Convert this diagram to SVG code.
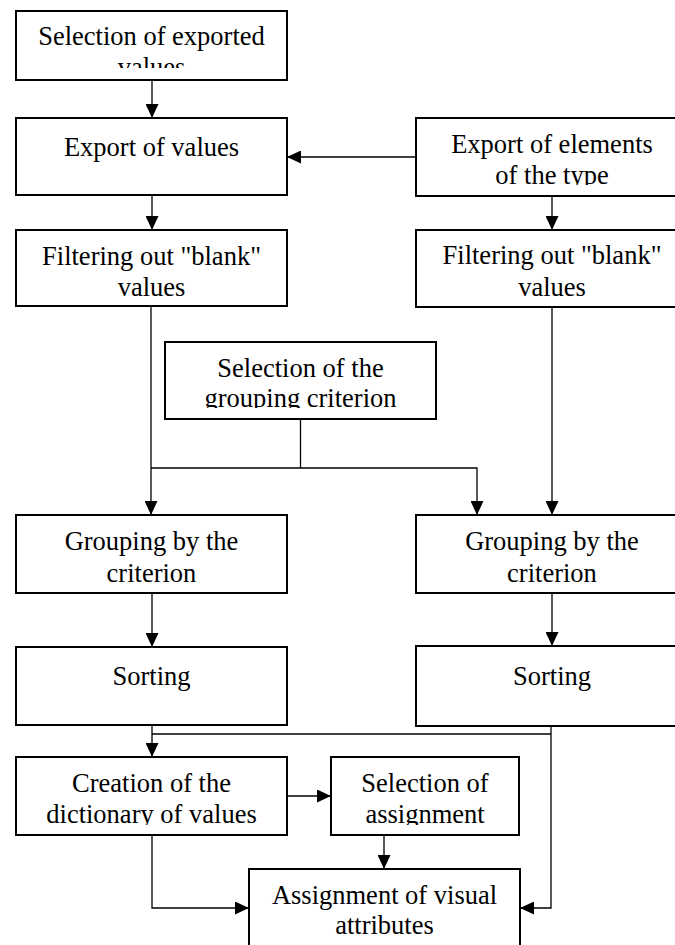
<svg xmlns="http://www.w3.org/2000/svg" width="675" height="945" viewBox="0 0 675 945">
<style>
.box{fill:#fff;stroke:#000;stroke-width:2}
.t{font-family:'Liberation Serif','DejaVu Serif',serif;font-size:26.5px;fill:#000;text-anchor:middle}
.c{fill:none;stroke:#000;stroke-width:1.3}
</style>
<defs>
<marker id="ah" markerUnits="userSpaceOnUse" markerWidth="14" markerHeight="13" refX="14" refY="6.5" orient="auto">
<path d="M0,0 L14,6.5 L0,13 z" fill="#000"/>
</marker>
<clipPath id="k1"><rect x="16" y="11" width="271" height="57"/></clipPath>
<clipPath id="k4"><rect x="416" y="118" width="272" height="67"/></clipPath>
<clipPath id="k6"><rect x="165" y="342" width="271" height="66"/></clipPath>
<clipPath id="k11"><rect x="16" y="757" width="271" height="68"/></clipPath>
<clipPath id="k12"><rect x="331" y="757" width="188" height="68"/></clipPath>
</defs>
<rect width="675" height="945" fill="#fff"/>
<g id="connectors">
<path class="c" d="M152,80 V118" marker-end="url(#ah)"/>
<path class="c" d="M416,157 H287" marker-end="url(#ah)"/>
<path class="c" d="M152,195 V230" marker-end="url(#ah)"/>
<path class="c" d="M552,196 V230" marker-end="url(#ah)"/>
<path class="c" d="M151,306 V515" marker-end="url(#ah)"/>
<path class="c" d="M300.5,419 V468"/>
<path class="c" d="M151,468 H477 V515" marker-end="url(#ah)"/>
<path class="c" d="M552,307 V515" marker-end="url(#ah)"/>
<path class="c" d="M152,593 V647" marker-end="url(#ah)"/>
<path class="c" d="M552,593 V646" marker-end="url(#ah)"/>
<path class="c" d="M152,725 V757" marker-end="url(#ah)"/>
<path class="c" d="M152,734 H551"/>
<path class="c" d="M551,726 V908 H520" marker-end="url(#ah)"/>
<path class="c" d="M287,796 H331" marker-end="url(#ah)"/>
<path class="c" d="M384,835 V869" marker-end="url(#ah)"/>
<path class="c" d="M152,835 V908 H249" marker-end="url(#ah)"/>
</g>
<g id="n1"><rect class="box" x="16" y="11" width="271" height="69"/><g clip-path="url(#k1)"><text class="t" x="151.5" y="45">Selection of exported</text><text class="t" x="151.5" y="76">values</text></g></g>
<g id="n2"><rect class="box" x="16" y="118" width="271" height="77"/><text class="t" x="151.5" y="156">Export of values</text></g>
<g id="n3"><rect class="box" x="16" y="230" width="271" height="76"/><text class="t" x="151.5" y="265">Filtering out "blank"</text><text class="t" x="151.5" y="296">values</text></g>
<g id="n4"><rect class="box" x="416" y="118" width="272" height="78"/><g clip-path="url(#k4)"><text class="t" x="552" y="153">Export of elements</text><text class="t" x="552" y="184">of the type</text></g></g>
<g id="n5"><rect class="box" x="416" y="230" width="272" height="77"/><text class="t" x="552" y="264">Filtering out "blank"</text><text class="t" x="552" y="296">values</text></g>
<g id="n6"><rect class="box" x="165" y="342" width="271" height="77"/><g clip-path="url(#k6)"><text class="t" x="300.5" y="377">Selection of the</text><text class="t" x="300.5" y="407">grouping criterion</text></g></g>
<g id="n7"><rect class="box" x="16" y="515" width="271" height="78"/><text class="t" x="151.5" y="550">Grouping by the</text><text class="t" x="151.5" y="582">criterion</text></g>
<g id="n8"><rect class="box" x="416" y="515" width="272" height="78"/><text class="t" x="552" y="550">Grouping by the</text><text class="t" x="552" y="582">criterion</text></g>
<g id="n9"><rect class="box" x="16" y="647" width="271" height="78"/><text class="t" x="151.5" y="685">Sorting</text></g>
<g id="n10"><rect class="box" x="416" y="646" width="272" height="80"/><text class="t" x="552" y="685">Sorting</text></g>
<g id="n11"><rect class="box" x="16" y="757" width="271" height="78"/><g clip-path="url(#k11)"><text class="t" x="151.5" y="792">Creation of the</text><text class="t" x="151.5" y="823">dictionary of values</text></g></g>
<g id="n12"><rect class="box" x="331" y="757" width="188" height="78"/><g clip-path="url(#k12)"><text class="t" x="425" y="792">Selection of</text><text class="t" x="425" y="823">assignment</text></g></g>
<g id="n13"><rect class="box" x="249" y="869" width="271" height="90"/><text class="t" x="384.5" y="904">Assignment of visual</text><text class="t" x="384.5" y="934">attributes</text></g>
</svg>
